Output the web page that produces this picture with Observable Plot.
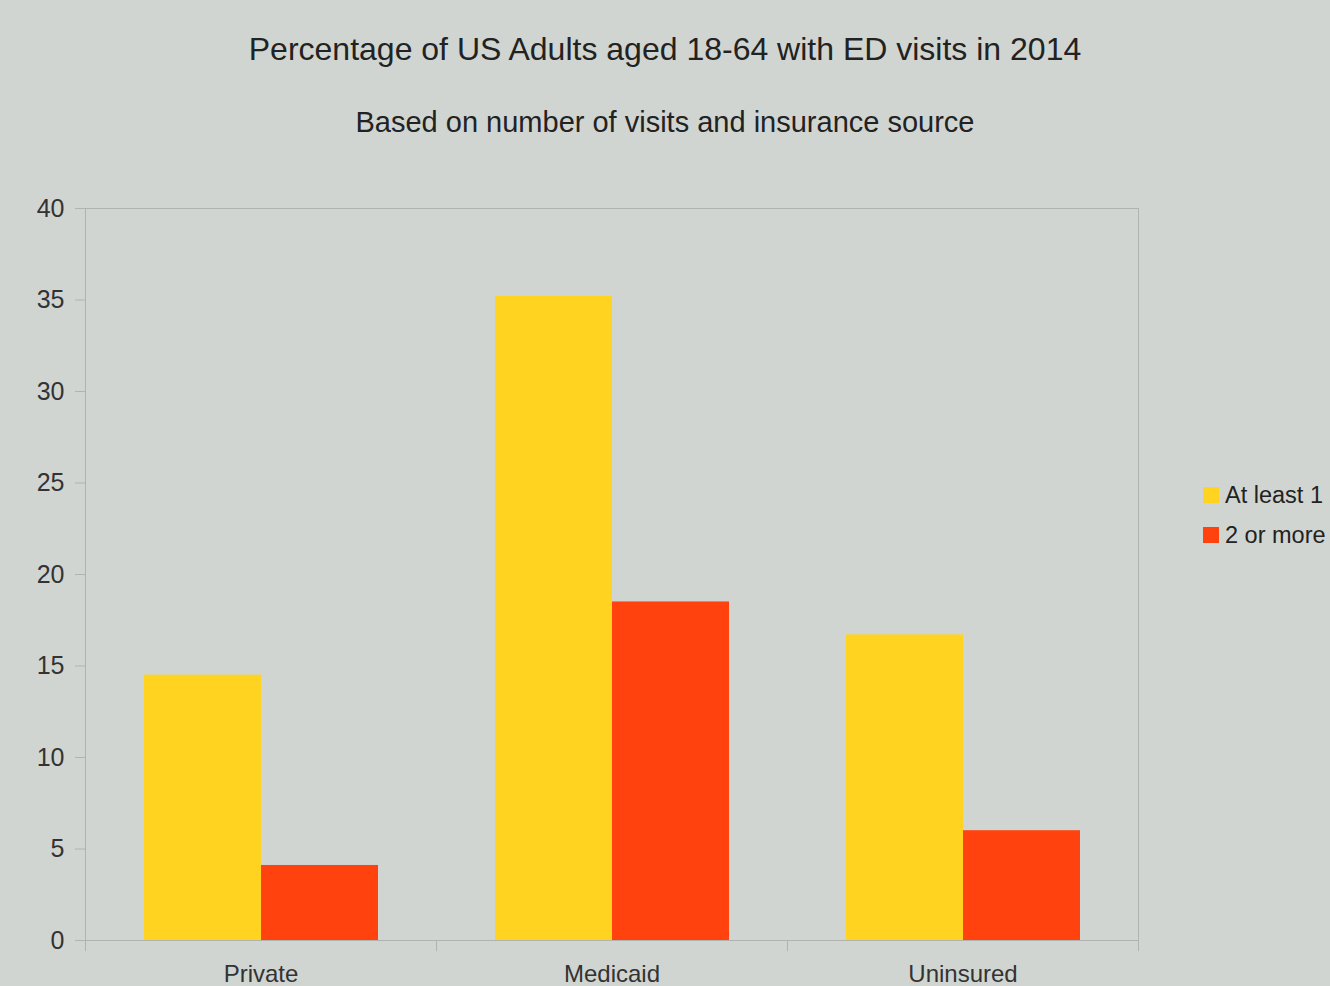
<!DOCTYPE html>
<html><head><meta charset="utf-8">
<script src="https://cdn.jsdelivr.net/npm/d3@7"></script>
<script src="https://cdn.jsdelivr.net/npm/@observablehq/plot@0.6"></script>
<style>
html,body{margin:0;padding:0;background:#d1d5d1;width:1330px;height:986px;overflow:hidden;font-family:"Liberation Sans",Arial,sans-serif;color:#222}
#header{position:relative;height:170px;width:1330px}
#title{position:absolute;left:0;width:1330px;top:33px;text-align:center;font-size:32px;line-height:32px;white-space:nowrap}
#subtitle{position:absolute;left:0;width:1330px;top:108px;text-align:center;font-size:29px;line-height:29px;white-space:nowrap}
#chart{position:relative;height:816px}
.sw{position:absolute;width:16px;height:16px}
.lt{position:absolute;font-size:23.5px;line-height:23px;white-space:nowrap;color:#222}
</style></head><body>
<div id="header"><div id="title">Percentage of US Adults aged 18-64 with ED visits in 2014</div><div id="subtitle">Based on number of visits and insurance source</div></div>
<div id="chart"></div>
<div id="legend"></div>
<script>
const categories = ["Private", "Medicaid", "Uninsured"];
const series = ["At least 1", "2 or more"];
const atLeastOne = [14.5, 35.2, 16.7];
const twoOrMore = [4.1, 18.5, 6.0];
const colors = ["#ffd320", "#ff420e"];
const yTicks = [0, 5, 10, 15, 20, 25, 30, 35, 40];

const data = categories.flatMap((c, i) => [
  {category: c, series: series[0], value: atLeastOne[i]},
  {category: c, series: series[1], value: twoOrMore[i]}
]);

const W = 1330, H = 816, mt = 38, mb = 46, ml = 84, mr = 192;
const lineColor = "#b0b3b0";
const plot = Plot.plot({
  width: W, height: H, marginTop: mt, marginBottom: mb, marginLeft: ml, marginRight: mr,
  style: {background: "transparent", fontFamily: "Liberation Sans, Arial, sans-serif", overflow: "visible"},
  fx: {domain: categories, padding: 0, label: null},
  x: {domain: series, paddingInner: 0, paddingOuter: 0.5, axis: null},
  y: {domain: [0, 40], label: null},
  color: {domain: series, range: colors},
  marks: [
    Plot.frame({facet: "super", stroke: lineColor}),
    Plot.frame({anchor: "left", insetTop: H - mt - mb, insetBottom: -10, stroke: lineColor}),
    Plot.frame({anchor: "right", insetTop: H - mt - mb, insetBottom: -10, stroke: lineColor}),
    Plot.barY(data, {fx: "category", x: "series", y: "value", fill: "series"}),
    Plot.axisY({ticks: yTicks, tickSize: 10, tickPadding: 11, fontSize: 25, stroke: lineColor, fill: "#333", label: null}),
    Plot.axisFx({anchor: "bottom", tickSize: 0, tickPadding: 24, fontSize: 24, fill: "#333", label: null})
  ]
});
document.getElementById("chart").appendChild(plot);

const legend = document.getElementById("legend");
series.forEach((s, i) => {
  const sw = document.createElement("div");
  sw.className = "sw";
  sw.style.left = "1203px";
  sw.style.top = (487 + i * 40) + "px";
  sw.style.background = colors[i];
  legend.appendChild(sw);
  const t = document.createElement("div");
  t.className = "lt";
  t.style.left = "1225px";
  t.style.top = (484 + i * 40) + "px";
  t.textContent = s;
  legend.appendChild(t);
});
</script>
</body></html>
